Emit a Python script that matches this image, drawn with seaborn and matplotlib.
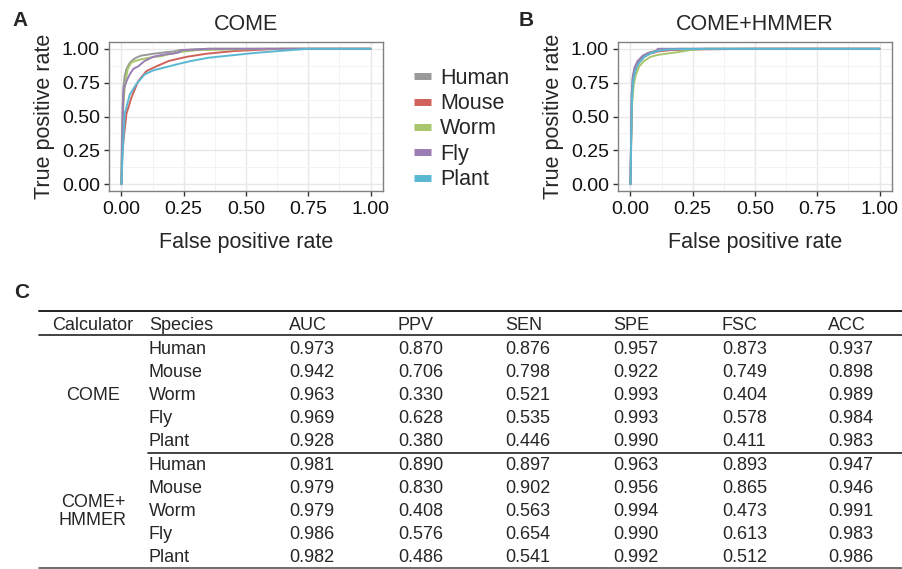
import matplotlib
matplotlib.use('Agg')
import matplotlib.pyplot as plt
from matplotlib.lines import Line2D
from matplotlib.ticker import MultipleLocator, FormatStrFormatter
import pandas as pd
import seaborn as sns

# Estilo
sns.set_theme(style='whitegrid')
plt.rcParams['font.family'] = ['Liberation Sans', 'DejaVu Sans']

species = ['Human', 'Mouse', 'Worm', 'Fly', 'Plant']
colors = ['#999999', '#d0625b', '#a8c66c', '#9a7db5', '#5bb8d3']

# Curvas ROC (panel A: COME)
human_fpr_a = [0, 0.002, 0.005, 0.008, 0.013, 0.02, 0.027, 0.035, 0.047, 0.06, 0.08, 0.1, 0.127, 0.15, 0.18, 0.21, 0.233, 0.27, 0.31, 0.35, 1.0]
human_tpr_a = [0, 0.40, 0.60, 0.72, 0.80, 0.85, 0.875, 0.90, 0.92, 0.935, 0.95, 0.955, 0.963, 0.968, 0.975, 0.98, 0.99, 0.993, 0.997, 1.0, 1.0]
mouse_fpr_a = [0, 0.003, 0.008, 0.02, 0.04, 0.067, 0.1, 0.14, 0.19, 0.26, 0.34, 0.45, 0.58, 0.65, 1.0]
mouse_tpr_a = [0, 0.2, 0.32, 0.52, 0.64, 0.76, 0.835, 0.87, 0.91, 0.94, 0.963, 0.983, 0.995, 1.0, 1.0]
worm_fpr_a = [0, 0.003, 0.008, 0.015, 0.025, 0.04, 0.073, 0.1, 0.13, 0.16, 0.19, 0.233, 0.3, 0.45, 0.58, 1.0]
worm_tpr_a = [0, 0.40, 0.60, 0.75, 0.85, 0.90, 0.92, 0.93, 0.94, 0.945, 0.96, 0.975, 0.99, 0.995, 1.0, 1.0]
fly_fpr_a = [0, 0.003, 0.006, 0.009, 0.02, 0.033, 0.047, 0.067, 0.093, 0.127, 0.15, 0.18, 0.21, 0.233, 0.24, 0.31, 0.35, 1.0]
fly_tpr_a = [0, 0.35, 0.55, 0.70, 0.76, 0.81, 0.85, 0.87, 0.91, 0.94, 0.95, 0.96, 0.965, 0.975, 0.99, 0.995, 1.0, 1.0]
plant_fpr_a = [0, 0.003, 0.006, 0.013, 0.033, 0.06, 0.093, 0.127, 0.18, 0.233, 0.28, 0.35, 0.45, 0.54, 0.63, 0.75, 1.0]
plant_tpr_a = [0, 0.15, 0.27, 0.52, 0.66, 0.74, 0.81, 0.84, 0.865, 0.89, 0.91, 0.934, 0.953, 0.97, 0.983, 1.0, 1.0]

# Panel B: COME+HMMER
human_fpr_b = [0, 0.003, 0.005, 0.009, 0.016, 0.029, 0.05, 0.07, 0.1, 0.13, 0.2, 1.0]
human_tpr_b = [0, 0.4, 0.66, 0.78, 0.85, 0.905, 0.945, 0.97, 0.985, 0.995, 1.0, 1.0]
mouse_fpr_b = [0, 0.003, 0.006, 0.011, 0.02, 0.035, 0.055, 0.08, 0.11, 0.16, 0.25, 0.5, 1.0]
mouse_tpr_b = [0, 0.35, 0.62, 0.76, 0.84, 0.9, 0.94, 0.965, 0.98, 0.99, 0.995, 1.0, 1.0]
worm_fpr_b = [0, 0.003, 0.006, 0.012, 0.02, 0.035, 0.055, 0.08, 0.11, 0.15, 0.19, 0.24, 0.3, 1.0]
worm_tpr_b = [0, 0.3, 0.58, 0.72, 0.80, 0.87, 0.91, 0.94, 0.955, 0.965, 0.975, 0.99, 1.0, 1.0]
fly_fpr_b = [0, 0.003, 0.005, 0.009, 0.016, 0.029, 0.05, 0.07, 0.1, 0.11, 1.0]
fly_tpr_b = [0, 0.4, 0.66, 0.79, 0.86, 0.91, 0.95, 0.965, 0.975, 1.0, 1.0]
plant_fpr_b = [0, 0.003, 0.006, 0.01, 0.018, 0.032, 0.055, 0.08, 0.11, 0.15, 0.3, 1.0]
plant_tpr_b = [0, 0.35, 0.62, 0.75, 0.83, 0.89, 0.94, 0.965, 0.985, 0.995, 1.0, 1.0]

# Tabla C
calculators = ['COME', 'COME+\nHMMER']
metric_names = ['AUC', 'PPV', 'SEN', 'SPE', 'FSC', 'ACC']
auc = [0.973, 0.942, 0.963, 0.969, 0.928, 0.981, 0.979, 0.979, 0.986, 0.982]
ppv = [0.870, 0.706, 0.330, 0.628, 0.380, 0.890, 0.830, 0.408, 0.576, 0.486]
sen = [0.876, 0.798, 0.521, 0.535, 0.446, 0.897, 0.902, 0.563, 0.654, 0.541]
spe = [0.957, 0.922, 0.993, 0.993, 0.990, 0.963, 0.956, 0.994, 0.990, 0.992]
fsc = [0.873, 0.749, 0.404, 0.578, 0.411, 0.893, 0.865, 0.473, 0.613, 0.512]
acc = [0.937, 0.898, 0.989, 0.984, 0.983, 0.947, 0.946, 0.991, 0.983, 0.986]


def armar_df(curvas):
    filas = []
    for sp, (fpr, tpr) in zip(species, curvas):
        for x, y in zip(fpr, tpr):
            filas.append({'Species': sp, 'fpr': x, 'tpr': y})
    return pd.DataFrame(filas)


df_a = armar_df([(human_fpr_a, human_tpr_a), (mouse_fpr_a, mouse_tpr_a),
                 (worm_fpr_a, worm_tpr_a), (fly_fpr_a, fly_tpr_a),
                 (plant_fpr_a, plant_tpr_a)])
df_b = armar_df([(human_fpr_b, human_tpr_b), (mouse_fpr_b, mouse_tpr_b),
                 (worm_fpr_b, worm_tpr_b), (fly_fpr_b, fly_tpr_b),
                 (plant_fpr_b, plant_tpr_b)])

fig = plt.figure(figsize=(9.03, 5.69), dpi=100)
W, H = 903, 569


def dibujar_roc(ax, df, titulo):
    sns.lineplot(data=df, x='fpr', y='tpr', hue='Species', hue_order=species,
                 palette=colors, estimator=None, sort=False, linewidth=1.4,
                 legend=False, ax=ax)
    ax.set_xlim(-0.05, 1.05)
    ax.set_ylim(-0.05, 1.05)
    ax.xaxis.set_major_locator(MultipleLocator(0.25))
    ax.yaxis.set_major_locator(MultipleLocator(0.25))
    ax.xaxis.set_minor_locator(MultipleLocator(0.125))
    ax.yaxis.set_minor_locator(MultipleLocator(0.125))
    ax.xaxis.set_major_formatter(FormatStrFormatter('%.2f'))
    ax.yaxis.set_major_formatter(FormatStrFormatter('%.2f'))
    ax.grid(which='major', color='#e8e8e8', linewidth=1.0)
    ax.grid(which='minor', color='#f3f3f3', linewidth=0.7)
    ax.set_facecolor('white')
    for s in ax.spines.values():
        s.set_color('#808080')
        s.set_linewidth(1.0)
    ax.tick_params(which='major', length=3.5, width=1.0, color='#333333',
                   labelsize=14, labelcolor='#111111',
                   bottom=True, left=True)
    ax.tick_params(axis='x', pad=4)
    ax.tick_params(axis='y', pad=3)
    ax.tick_params(which='minor', length=0)
    ax.set_xlabel('False positive rate', fontsize=15.5, labelpad=10)
    ax.set_ylabel('True positive rate', fontsize=15.5, labelpad=5)
    ax.set_title(titulo, fontsize=15.5, pad=9)


ax_a = fig.add_axes([109 / W, 1 - 191 / H, 274 / W, 149 / H])
ax_b = fig.add_axes([618 / W, 1 - 191 / H, 274 / W, 149 / H])
dibujar_roc(ax_a, df_a, 'COME')
dibujar_roc(ax_b, df_b, 'COME+HMMER')

fig.text(20 / W, 1 - 20 / H, 'A', fontsize=15, fontweight='bold', ha='center', va='center')
fig.text(526 / W, 1 - 20 / H, 'B', fontsize=15, fontweight='bold', ha='center', va='center')

handles = [Line2D([], [], color=c, lw=5, solid_capstyle='butt') for c in colors]
fig.legend(handles, species, loc='center left', bbox_to_anchor=(414 / W, 1 - 129 / H),
           frameon=False, fontsize=15.5, handlelength=0.8, handletextpad=0.4,
           labelspacing=0.2, borderpad=0, borderaxespad=0)

# Tabla (coordenadas en píxeles dentro de un eje sin marco)
ax_t = fig.add_axes([0, 0, 1, 290 / H])
ax_t.set_xlim(0, W)
ax_t.set_ylim(H, H - 290)
ax_t.axis('off')

fig.text(22 / W, 1 - 292 / H, 'C', fontsize=15, fontweight='bold', ha='center', va='center')

fs = 13
col_x = [289, 398, 505, 613, 722, 828]
header_y = 326
row_y = [349, 372.2, 395.4, 418.6, 441.8, 465, 488.2, 511.4, 534.6, 557.8]
valores = [auc, ppv, sen, spe, fsc, acc]

ax_t.plot([39, W], [311, 311], color='#222222', lw=1.4, clip_on=False)
ax_t.plot([39, W], [335, 335], color='#222222', lw=1.2, clip_on=False)
ax_t.plot([148, W], [453, 453], color='#222222', lw=1.2, clip_on=False)
ax_t.plot([39, W], [567.5, 567.5], color='#555555', lw=1.2, clip_on=False)

ax_t.text(93, header_y, 'Calculator', fontsize=fs, ha='center', va='center')
ax_t.text(149, header_y, 'Species', fontsize=fs, ha='left', va='center')
for x, m in zip(col_x, metric_names):
    ax_t.text(x, header_y, m, fontsize=fs, ha='left', va='center')

ax_t.text(93, row_y[2], calculators[0], fontsize=fs, ha='center', va='center')
ax_t.text(93, row_y[7], calculators[1], fontsize=fs, ha='center', va='center',
          linespacing=1.05)

for i, y in enumerate(row_y):
    ax_t.text(149, y, species[i % 5], fontsize=fs, ha='left', va='center')
    for x, vals in zip(col_x, valores):
        ax_t.text(x, y, f'{vals[i]:.3f}', fontsize=fs, ha='left', va='center')

fig.savefig('out.png', dpi=100)
